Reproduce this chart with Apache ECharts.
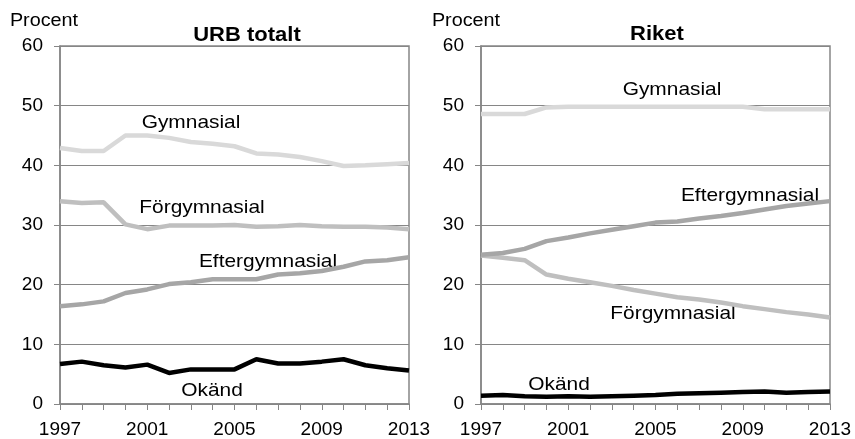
<!DOCTYPE html>
<html>
<head>
<meta charset="utf-8">
<script src="https://cdn.jsdelivr.net/npm/echarts@6/dist/echarts.min.js"></script>
<style>
  html, body { margin: 0; padding: 0; background: #fff; }
  #chart { width: 855px; height: 439px; }
</style>
</head>
<body>
<div id="chart"></div>
<script>
var years = ['1997','1998','1999','2000','2001','2002','2003','2004','2005','2006','2007','2008','2009','2010','2011','2012','2013'];

// URB totalt
var urbGymnasial = [42.9, 42.4, 42.4, 45.0, 45.0, 44.6, 43.9, 43.6, 43.2, 42.0, 41.8, 41.4, 40.7, 39.9, 40.0, 40.2, 40.4];
var urbForgymnasial = [34.0, 33.7, 33.8, 30.1, 29.3, 29.9, 29.9, 29.9, 30.0, 29.7, 29.8, 30.0, 29.8, 29.7, 29.7, 29.6, 29.3];
var urbEftergymnasial = [16.4, 16.7, 17.2, 18.6, 19.2, 20.1, 20.4, 20.9, 20.9, 20.9, 21.7, 21.9, 22.3, 23.0, 23.9, 24.1, 24.6];
var urbOkand = [6.7, 7.1, 6.5, 6.1, 6.6, 5.2, 5.8, 5.8, 5.8, 7.5, 6.8, 6.8, 7.1, 7.5, 6.5, 6.0, 5.6];

// Riket
var riketGymnasial = [48.6, 48.6, 48.6, 49.7, 49.8, 49.8, 49.8, 49.8, 49.8, 49.8, 49.8, 49.8, 49.8, 49.4, 49.4, 49.4, 49.4];
var riketForgymnasial = [24.9, 24.5, 24.1, 21.7, 21.0, 20.4, 19.8, 19.1, 18.5, 17.9, 17.5, 17.0, 16.4, 15.9, 15.4, 15.0, 14.5];
var riketEftergymnasial = [25.0, 25.3, 26.0, 27.3, 27.9, 28.6, 29.2, 29.8, 30.4, 30.6, 31.1, 31.5, 32.0, 32.6, 33.2, 33.6, 34.0];
var riketOkand = [1.4, 1.5, 1.3, 1.2, 1.3, 1.2, 1.3, 1.4, 1.5, 1.7, 1.8, 1.9, 2.0, 2.1, 1.9, 2.0, 2.1];

var font = 'Liberation Sans, Arial, sans-serif';
var colGym = '#d9d9d9', colFor = '#bfbfbf', colEft = '#a6a6a6', colOk = '#000000';
var axisCol = '#868686';

function xAxisFor(gi) {
    return {
        type: 'category', gridIndex: gi, data: years, boundaryGap: false,
        axisLine: { lineStyle: { color: axisCol, width: 1.5 } },
        axisTick: { show: true, interval: 0, length: 6, lineStyle: { color: axisCol } },
        axisLabel: {
            interval: 3, color: '#000', fontFamily: font, fontSize: 19, margin: 16,
            showMaxLabel: true
        },
        splitLine: { show: false }
    };
}
function yAxisFor(gi) {
    return {
        type: 'value', gridIndex: gi, min: 0, max: 60, interval: 10,
        axisLine: { show: true, lineStyle: { color: axisCol, width: 1.5 } },
        axisTick: { show: true, length: 6, lineStyle: { color: axisCol } },
        axisLabel: { color: '#000', fontFamily: font, fontSize: 19, margin: 17 },
        splitLine: { lineStyle: { color: axisCol, width: 1.2 } }
    };
}
function line(name, data, color, gi, z) {
    return {
        name: name, type: 'line', data: data, xAxisIndex: gi, yAxisIndex: gi,
        showSymbol: false, symbol: 'none', z: z,
        lineStyle: { color: color, width: 4.5 }
    };
}
function txt(x, y, s, size, bold) {
    return {
        type: 'text', x: x, y: y, scaleX: 1.1,
        style: {
            text: s, fill: '#000', font: (bold ? 'bold ' : '') + size + 'px ' + font,
            textAlign: 'center', textVerticalAlign: 'middle'
        }
    };
}

var chart = echarts.init(document.getElementById('chart'));
chart.setOption({
    animation: false,
    grid: [
        { left: 60, top: 46, width: 349, height: 359, show: true, borderColor: axisCol, borderWidth: 1.5 },
        { left: 481, top: 46, width: 349, height: 359, show: true, borderColor: axisCol, borderWidth: 1.5 }
    ],
    xAxis: [xAxisFor(0), xAxisFor(1)],
    yAxis: [yAxisFor(0), yAxisFor(1)],
    series: [
        line('Gymnasial', urbGymnasial, colGym, 0, 2),
        line('Förgymnasial', urbForgymnasial, colFor, 0, 3),
        line('Eftergymnasial', urbEftergymnasial, colEft, 0, 4),
        line('Okänd', urbOkand, colOk, 0, 5),
        line('Gymnasial', riketGymnasial, colGym, 1, 2),
        line('Förgymnasial', riketForgymnasial, colFor, 1, 3),
        line('Eftergymnasial', riketEftergymnasial, colEft, 1, 4),
        line('Okänd', riketOkand, colOk, 1, 5)
    ],
    graphic: [
        txt(44, 21, 'Procent', 18),
        txt(466, 21, 'Procent', 18),
        txt(247, 35, 'URB totalt', 20, true),
        txt(657, 34, 'Riket', 20, true),
        txt(191, 123, 'Gymnasial', 19),
        txt(202, 208, 'Förgymnasial', 19),
        txt(268, 262, 'Eftergymnasial', 19),
        txt(212, 391, 'Okänd', 19),
        txt(672, 90, 'Gymnasial', 19),
        txt(750, 196, 'Eftergymnasial', 19),
        txt(673, 314, 'Förgymnasial', 19),
        txt(559, 385, 'Okänd', 19)
    ]
});
</script>
</body>
</html>
